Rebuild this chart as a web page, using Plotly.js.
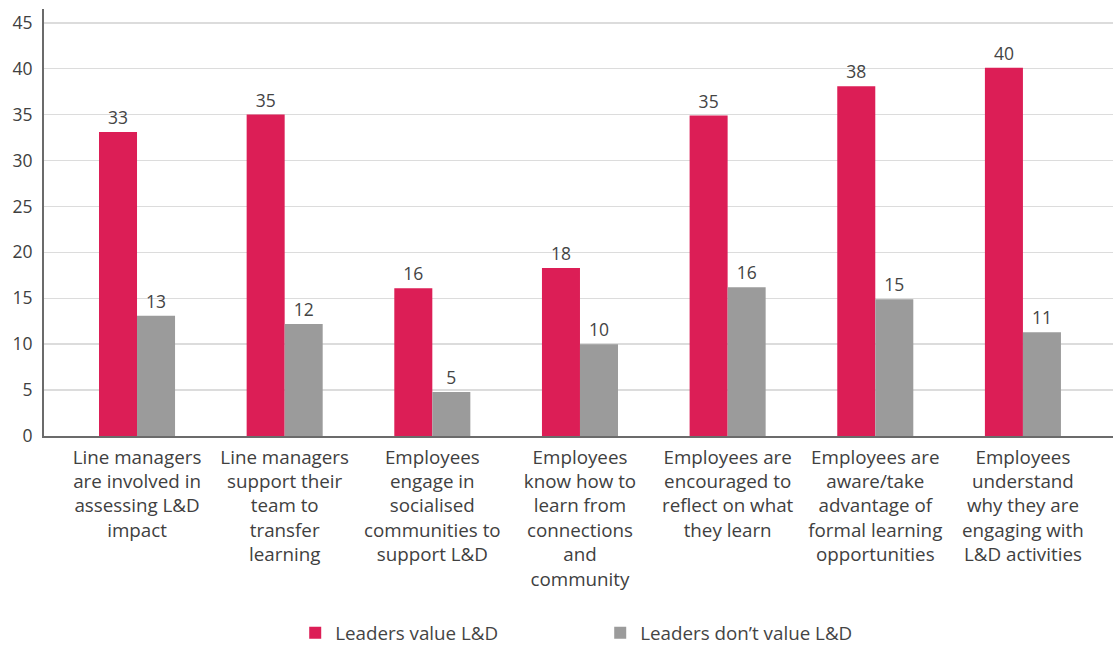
<!DOCTYPE html>
<html>
<head>
<meta charset="utf-8">
<script src="https://cdn.plot.ly/plotly-3.0.1.min.js"></script>
<style>html,body{margin:0;padding:0;background:#fff;}#chart{width:1113px;height:646px;}</style>
</head>
<body>
<div id="chart"></div>
<script>
const categories = [
  "Line managers<br>are involved in<br>assessing L&D<br>impact",
  "Line managers<br>support their<br>team to<br>transfer<br>learning",
  "Employees<br>engage in<br>socialised<br>communities to<br>support L&D",
  "Employees<br>know how to<br>learn from<br>connections<br>and<br>community",
  "Employees are<br>encouraged to<br>reflect on what<br>they learn",
  "Employees are<br>aware/take<br>advantage of<br>formal learning<br>opportunities",
  "Employees<br>understand<br>why they are<br>engaging with<br>L&D activities"
];
const seriesNames = ["Leaders value L&D", "Leaders don\u2019t value L&D"];
const valueLeaders = [33.1, 35.0, 16.1, 18.3, 34.9, 38.1, 40.1];
const valueNoLeaders = [13.1, 12.2, 4.8, 10.0, 16.2, 14.9, 11.3];
const yTicks = [0, 5, 10, 15, 20, 25, 30, 35, 40, 45];

const textFont = {family: "Open Sans, sans-serif", size: 17.5, color: "#444444"};
const idx = categories.map((c, i) => i);

const traces = [
  {type: "bar", name: seriesNames[0], x: idx, y: valueLeaders,
   marker: {color: "#DC1E56"}, texttemplate: "%{y:.0f}", textposition: "outside",
   textfont: textFont, cliponaxis: false, hoverinfo: "skip"},
  {type: "bar", name: seriesNames[1], x: idx, y: valueNoLeaders,
   marker: {color: "#9B9B9B"}, texttemplate: "%{y:.0f}", textposition: "outside",
   textfont: textFont, cliponaxis: false, hoverinfo: "skip"}
];

const layout = {
  width: 1113, height: 646,
  margin: {l: 44, r: 0, t: 9, b: 210, pad: 0},
  paper_bgcolor: "#ffffff", plot_bgcolor: "#ffffff",
  barmode: "group", bargap: 0.485, bargroupgap: 0,
  font: {family: "Open Sans, sans-serif", color: "#444444"},
  xaxis: {
    range: [-0.63, 6.61], tickmode: "array", tickvals: idx, ticktext: categories,
    showgrid: false, zeroline: false, showline: true, linecolor: "#6b6b6b", linewidth: 2,
    ticks: "", ticklabelstandoff: 3,
    tickfont: {family: "Open Sans, sans-serif", size: 18.8, color: "#404040"},
    tickangle: 0, automargin: false
  },
  yaxis: {
    range: [0, 46.5], tickmode: "array", tickvals: yTicks,
    showgrid: true, gridcolor: "#dcdcdc", gridwidth: 1.5, zeroline: false,
    showline: true, linecolor: "#6b6b6b", linewidth: 2, ticks: "", ticklabelstandoff: 6,
    tickfont: {family: "Open Sans, sans-serif", size: 17.5, color: "#404040"},
    automargin: false
  },
  showlegend: true,
  legend: {
    orientation: "h", x: 0.235, xanchor: "left",
    yref: "container", y: 0.02, yanchor: "middle",
    font: {family: "Open Sans, sans-serif", size: 18.8, color: "#444444"},
    entrywidth: 260, entrywidthmode: "pixels", itemclick: false, itemdoubleclick: false
  }
};

Plotly.newPlot("chart", traces, layout, {displayModeBar: false, staticPlot: true});
</script>
</body>
</html>
